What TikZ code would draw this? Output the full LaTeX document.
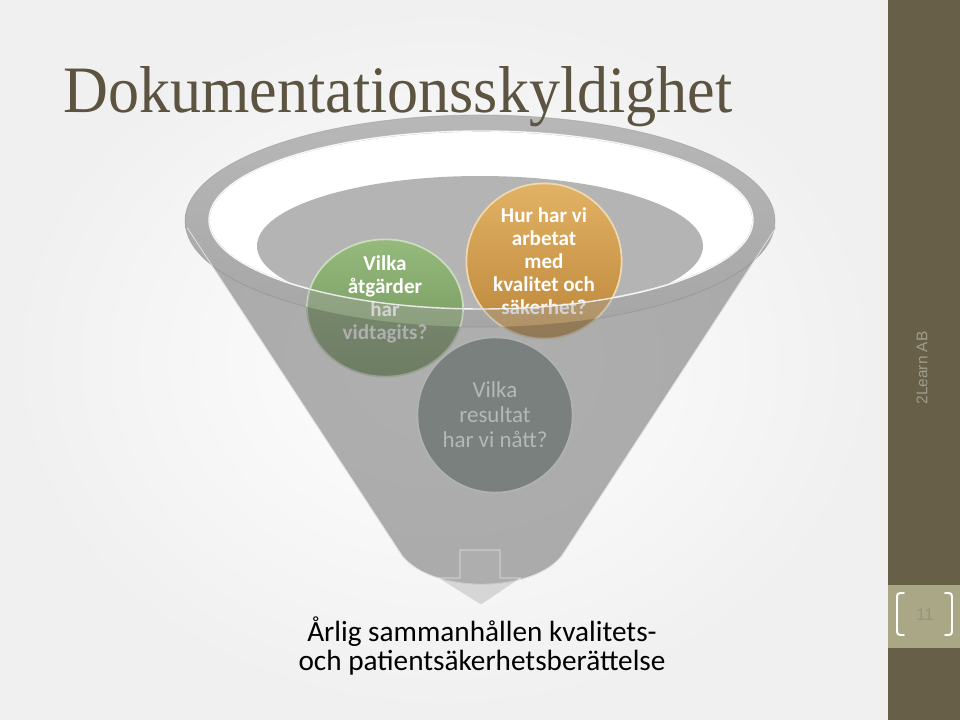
\documentclass[tikz,border=0pt]{standalone}
\usepackage{fontspec}
\setmainfont{Carlito}
\newfontfamily\titlefont{Liberation Serif}
\newfontfamily\sidefont{Liberation Sans}
\usetikzlibrary{shapes.geometric}
\definecolor{sidebar}{RGB}{103,95,71}
\definecolor{pagebox}{RGB}{170,167,135}
\definecolor{pagenum}{RGB}{150,148,124}
\definecolor{sidetext}{RGB}{160,157,140}
\definecolor{titlecol}{RGB}{92,84,64}
\definecolor{greentop}{RGB}{150,186,124}
\definecolor{greenbot}{RGB}{110,144,88}
\definecolor{orangetop}{RGB}{226,178,100}
\definecolor{orangebot}{RGB}{188,134,58}
\definecolor{slate}{RGB}{122,128,125}
\definecolor{slatetext}{RGB}{180,185,182}
\definecolor{conegray}{RGB}{110,110,110}
\definecolor{opening}{RGB}{180,180,180}
\begin{document}
\begin{tikzpicture}[x=0.025cm,y=-0.025cm,line join=round,line cap=round,
  bubble/.style={circle,minimum size=3.88cm,inner sep=0pt,align=center,line width=1.2pt},
  boldq/.style={align=center,font=\bfseries\fontsize{15}{16.4}\selectfont,text=white},
  bracket/.style={draw=white,line width=1.4pt}]
\useasboundingbox (0,0) rectangle (960,720);
\shade[inner color=white,outer color=gray!12] (0,0) rectangle (888,720);
\fill[sidebar] (888,0) rectangle (960,720);
\fill[pagebox] (888,585) rectangle (960,648);
\foreach \s/\x in {1/900,-1/949}
  \draw[bracket,shift={(\x,614)},xscale=\s] (4,-21) .. controls (-3,-21) .. (-3,-14) -- (-3,14) .. controls (-3,21) .. (4,21);
\node[text=pagenum,font=\sidefont\fontsize{12}{12}\selectfont] (page) at (925,615) {11};
\node[rotate=90,text=sidetext,font=\sidefont\fontsize{11}{11}\selectfont] (brand) at (922,368) {2Learn AB};
\shade[even odd rule,top color=gray!56,bottom color=gray!70] (480,221) ellipse [x radius=295,y radius=106] (481,220) ellipse [x radius=271,y radius=88];
\draw[gray!80,opacity=0.5,line width=0.6pt] (480,221) ellipse [x radius=295,y radius=106];
\fill[white] (481,220) ellipse [x radius=271,y radius=88];
\begin{scope}
  \clip (481,220) ellipse [x radius=271,y radius=88];
  \fill[opening] (480,246) ellipse [x radius=223,y radius=70];
\end{scope}
\draw[white,opacity=0.9,line width=1pt] (481,220) ellipse [x radius=272,y radius=89];
\node[ellipse,minimum width=3.9cm,minimum height=3.43cm,inner sep=0pt,line width=1.2pt,top color=greentop,bottom color=greenbot,draw=greentop!50!white] (atgarder) at (385,308) {};
\node[boldq] (atgardertext) at (385,299) {Vilka\\åtgärder\\har\\vidtagits?};
\node[bubble,boldq,top color=orangetop,bottom color=orangebot,draw=orangetop!50!white] (arbete) at (544,261) {Hur har vi\\arbetat\\med\\kvalitet och\\säkerhet?};
\begin{scope}
  \clip (atgarder.center) ellipse [x radius=78,y radius=69] (arbete.center) circle [radius=78];
  \fill[gray!75,opacity=0.45,even odd rule] (480,221) ellipse [x radius=295,y radius=106] (481,220) ellipse [x radius=271,y radius=88];
  \draw[white,opacity=0.8,line width=1pt] (481,220) ellipse [x radius=272,y radius=89];
\end{scope}
\begin{scope}
  \clip (187,228) -- (402,556) .. controls (432,594) and (532,594) .. (562,556) -- (776,228) -- cycle;
  \fill[conegray,opacity=0.55,even odd rule] (0,0) rectangle (960,720) (480,221) ellipse [x radius=295,y radius=106];
  \draw[white,opacity=0.7,line width=1pt] (187,228) -- (402,556) .. controls (432,594) and (532,594) .. (562,556) -- (776,228);
\end{scope}
\node[bubble,fill=slate,draw=slate!60!white,text=slatetext,align=center,font=\fontsize{16.3}{17.8}\selectfont] (resultat) at (495,415) {Vilka\\resultat\\har vi nått?};
\draw[fill=gray!60,fill opacity=0.45,draw=white,draw opacity=0.7] (460,550) -- (500,550) -- (500,578) -- (521,578) -- (481,605) -- (438,578) -- (460,578) -- cycle;
\node[font=\fontsize{20.8}{20.5}\selectfont,align=center] (report) at (482,646) {Årlig sammanhållen kvalitets-\\och patientsäkerhetsberättelse};
\node[anchor=base west,text=titlecol,inner sep=0pt] (title) at (63,113) {\resizebox{476pt}{32.7pt}{\titlefont Dokumentationsskyldighet}};
\end{tikzpicture}
\end{document}
